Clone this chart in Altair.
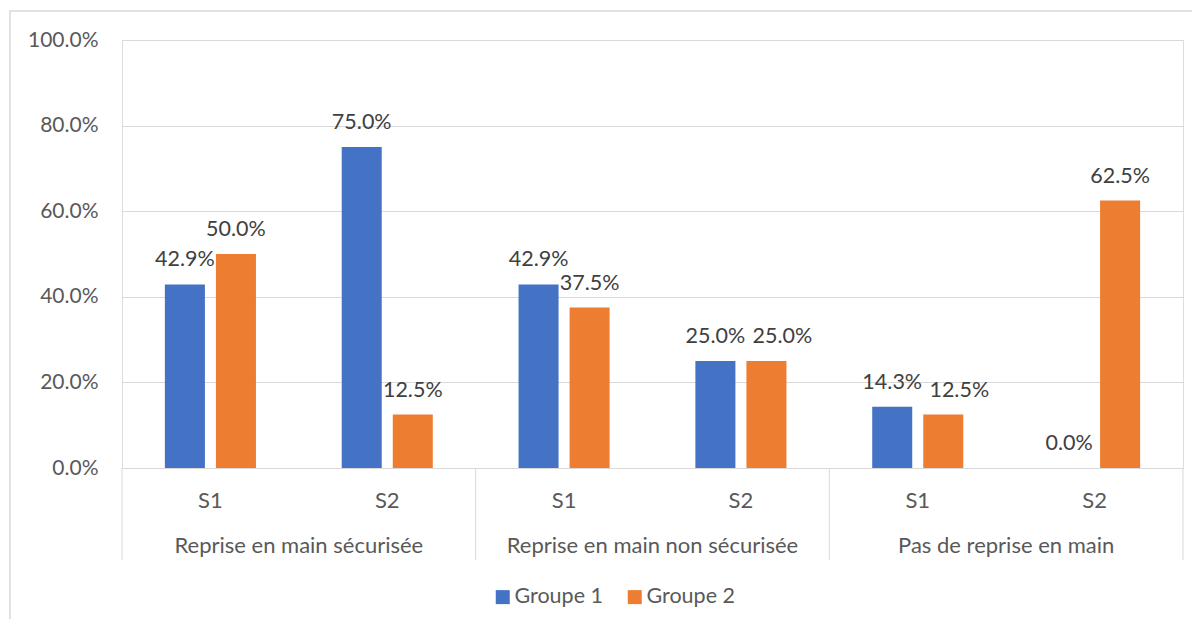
import altair as alt
import pandas as pd

groups = ["Reprise en main sécurisée", "Reprise en main non sécurisée", "Pas de reprise en main"]
sessions = ["S1", "S2"]
series = ["Groupe 1", "Groupe 2"]
groupe1 = [0.429, 0.750, 0.429, 0.250, 0.143, 0.000]
groupe2 = [0.500, 0.125, 0.375, 0.250, 0.125, 0.625]
colors = ["#4472C4", "#ED7D31"]
# labels that the original chart nudged sideways to avoid overlap
nudged = ["Reprise en main non sécurisée|S2|Groupe 2", "Pas de reprise en main|S1|Groupe 2"]

FONT = "Lato"
FS_TICK = 21
FS_VAL = 21.5
FS_CAT = 22
FS_LEG = 21.5
TXT = "#595959"
GRID = "#D9D9D9"

cats = []
rows = []
for gi, g in enumerate(groups):
    for si, s in enumerate(sessions):
        cat = f"{g}|{s}"
        cats.append(cat)
        idx = gi * 2 + si
        rows.append({"cat": cat, "serie": series[0], "value": groupe1[idx],
                     "key": f"{cat}|{series[0]}"})
        rows.append({"cat": cat, "serie": series[1], "value": groupe2[idx],
                     "key": f"{cat}|{series[1]}"})
df = pd.DataFrame(rows)

x_enc = alt.X(
    "cat:N", sort=cats,
    scale=alt.Scale(paddingInner=0, paddingOuter=0),
    axis=alt.Axis(
        title=None, labelExpr="split(datum.value, '|')[1]", labelAngle=0,
        ticks=False, domain=True, domainColor=GRID, grid=False,
        labelPadding=22, labelFontSize=FS_CAT, labelColor=TXT, labelFont=FONT,
        labelBaseline="top",
    ),
)
y_enc = alt.Y(
    "value:Q",
    scale=alt.Scale(domain=[0, 1]),
    axis=alt.Axis(
        title=None, values=[0, 0.2, 0.4, 0.6, 0.8, 1.0], format=".1%",
        grid=True, gridColor=GRID, domain=False, ticks=False,
        labelPadding=24, labelFontSize=FS_TICK, labelColor=TXT, labelFont=FONT,
    ),
)
xoff = alt.XOffset("serie:N", sort=series,
                   scale=alt.Scale(paddingInner=0.216, paddingOuter=0.84))

bars = alt.Chart(df).mark_bar().encode(
    x=x_enc, y=y_enc, xOffset=xoff,
    color=alt.Color(
        "serie:N", sort=series,
        scale=alt.Scale(domain=series, range=colors),
        legend=alt.Legend(
            title=None, orient="none", legendX=370, legendY=546,
            direction="horizontal", symbolType="square", symbolSize=196,
            symbolStrokeWidth=0, labelFontSize=FS_LEG, labelColor=TXT,
            labelFont=FONT, columnPadding=21, labelOffset=1,
        ),
    ),
)

nudged_expr = "indexof(" + str(nudged).replace("'", '"') + ", datum.key) >= 0"

labels = alt.Chart(df).transform_filter("!(" + nudged_expr + ")").mark_text(
    baseline="alphabetic", dy=-18, fontSize=FS_VAL, font=FONT, color="#404040"
).encode(
    x=alt.X("cat:N", sort=cats), y="value:Q", xOffset=xoff,
    text=alt.Text("value:Q", format=".1%"),
)
labels_nudged = alt.Chart(df).transform_filter(nudged_expr).mark_text(
    baseline="alphabetic", dy=-18, dx=16, fontSize=FS_VAL, font=FONT, color="#404040"
).encode(
    x=alt.X("cat:N", sort=cats), y="value:Q", xOffset=xoff,
    text=alt.Text("value:Q", format=".1%"),
)

sep_left = pd.DataFrame({"cat": [f"{g}|S1" for g in groups]})
sep_right = pd.DataFrame({"cat": [cats[-1]]})
rule_left = alt.Chart(sep_left).mark_rule(color=GRID, strokeWidth=1).encode(
    x=alt.X("cat:N", sort=cats, bandPosition=0),
    y=alt.value(428), y2=alt.value(520),
)
rule_right = alt.Chart(sep_right).mark_rule(color=GRID, strokeWidth=1).encode(
    x=alt.X("cat:N", sort=cats, bandPosition=1),
    y=alt.value(428), y2=alt.value(520),
)

grp_df = pd.DataFrame({"cat": [f"{g}|S2" for g in groups], "label": groups})
grp_text = alt.Chart(grp_df).mark_text(
    baseline="middle", align="center", fontSize=FS_CAT, font=FONT, color=TXT
).encode(
    x=alt.X("cat:N", sort=cats, bandPosition=0),
    y=alt.value(506),
    text="label:N",
)

border = alt.Chart(pd.DataFrame({"a": [0]})).mark_rect(
    fill="transparent", stroke=GRID, strokeWidth=1.5
).encode(
    x=alt.value(-112), x2=alt.value(1090),
    y=alt.value(-29), y2=alt.value(600),
)

chart = alt.layer(border, bars, labels, labels_nudged, rule_left, rule_right, grp_text).properties(
    width=1061, height=428,
    autosize=alt.AutoSizeParams(type="none"),
    padding={"left": 114, "top": 32, "right": 9, "bottom": 151},
).configure_view(stroke=None).configure(background="white")

chart.save("out.html", embed_options={"renderer": "svg", "actions": False})
